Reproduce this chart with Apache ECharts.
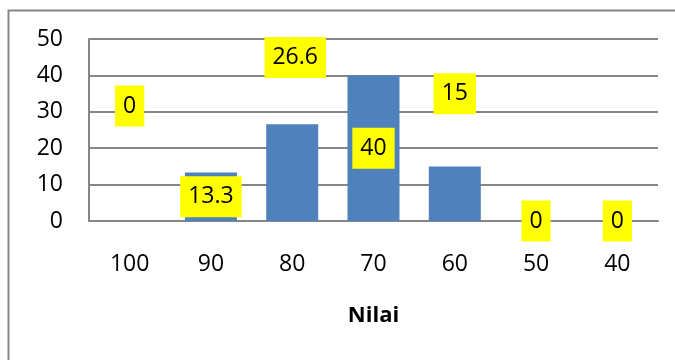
<!DOCTYPE html>
<html>
<head>
<meta charset="utf-8">
<script src="https://cdn.jsdelivr.net/npm/echarts@6/dist/echarts.min.js"></script>
<style>html,body{margin:0;padding:0;background:#fff}#c{width:675px;height:360px}</style>
</head>
<body>
<div id="c"></div>
<script>
var categories = ['100', '90', '80', '70', '60', '50', '40'];
var values = [0, 13.3, 26.6, 40, 15, 0, 0];
var yTicks = [0, 10, 20, 30, 40, 50];
var axisName = 'Nilai';
// label offsets (style only)
var labelOffsets = [[0, -115], [0, 0], [3, -115], [0, 0], [0, -100], [0, 0], [0, 0]];

var FONT = 'Open Sans';
var chart = echarts.init(document.getElementById('c'), null, {renderer: 'canvas'});
var data = values.map(function (v, i) {
  return {value: v, label: {offset: labelOffsets[i]}};
});
chart.setOption({
  animation: false,
  backgroundColor: '#fff',
  graphic: [{
    type: 'rect', shape: {x: 8.5, y: 10.5, width: 700, height: 400},
    style: {fill: 'none', stroke: '#868686', lineWidth: 2}, z: -1
  }],
  grid: {left: 89, right: 17, top: 39, bottom: 139, containLabel: false},
  xAxis: {
    type: 'category',
    data: categories,
    axisTick: {show: false},
    axisLine: {show: true, lineStyle: {color: '#868686', width: 2}},
    axisLabel: {color: '#000', fontFamily: FONT, fontSize: 23, margin: 32},
    name: axisName,
    nameLocation: 'middle',
    nameGap: 84,
    nameTextStyle: {color: '#000', fontFamily: FONT, fontSize: 22, fontWeight: 'bold'}
  },
  yAxis: {
    type: 'value',
    min: yTicks[0],
    max: yTicks[yTicks.length - 1],
    interval: 10,
    axisLine: {show: true, lineStyle: {color: '#868686', width: 2}},
    axisTick: {show: false},
    splitLine: {lineStyle: {color: '#868686', width: 2}},
    axisLabel: {color: '#000', fontFamily: FONT, fontSize: 23, margin: 26}
  },
  series: [{
    type: 'bar',
    data: data,
    barWidth: '64%',
    itemStyle: {color: '#4F81BD'},
    label: {
      show: true,
      position: 'inside',
      color: '#000',
      fontFamily: FONT,
      fontSize: 23,
      lineHeight: 23,
      backgroundColor: '#FFFF00',
      padding: [9, 8, 9, 8]
    }
  }]
});
</script>
</body>
</html>
